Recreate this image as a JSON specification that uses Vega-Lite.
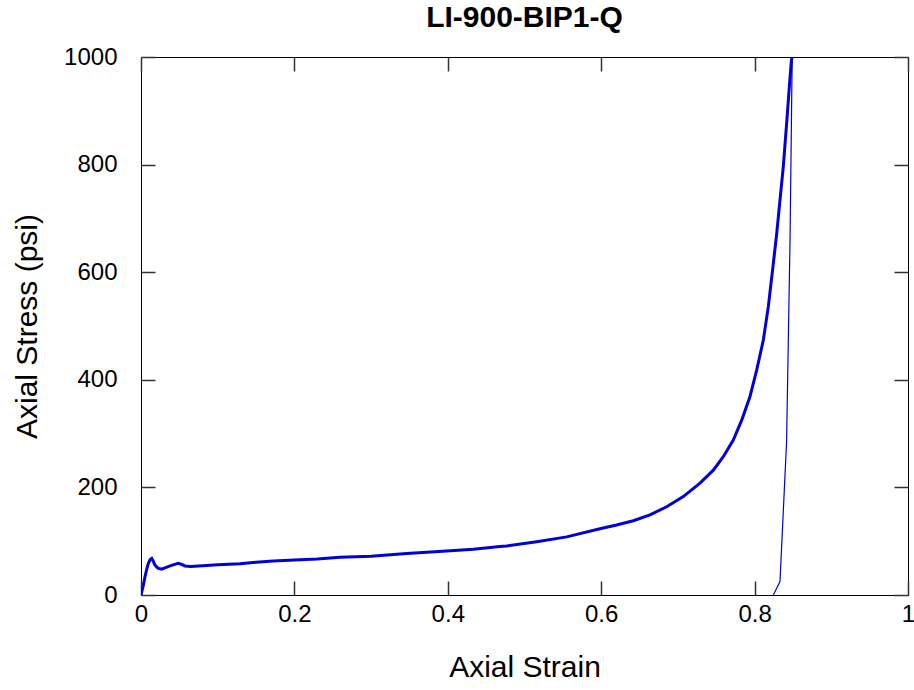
{
  "$schema": "https://vega.github.io/schema/vega-lite/v6.json",
  "autosize": "none",
  "width": 767,
  "height": 538,
  "padding": {"left": 141, "top": 57, "right": 6, "bottom": 95},
  "background": "white",
  "config": {
    "view": {"stroke": "#000", "strokeWidth": 1},
    "font": "Liberation Sans",
    "axis": {"grid": false, "ticks": true}
  },
  "title": {
    "text": "LI-900-BIP1-Q",
    "font": "Liberation Sans",
    "fontSize": 30,
    "fontWeight": "bold",
    "color": "#000",
    "offset": 12
  },
  "datasets": {
    "curve": [
      {"strain": 0, "stress": 0, "phase": "load"},
      {"strain": 0.003, "stress": 18, "phase": "load"},
      {"strain": 0.0052, "stress": 34, "phase": "load"},
      {"strain": 0.0075, "stress": 48, "phase": "load"},
      {"strain": 0.0096, "stress": 59, "phase": "load"},
      {"strain": 0.012, "stress": 66, "phase": "load"},
      {"strain": 0.014, "stress": 68, "phase": "load"},
      {"strain": 0.016, "stress": 63, "phase": "load"},
      {"strain": 0.018, "stress": 56, "phase": "load"},
      {"strain": 0.022, "stress": 50, "phase": "load"},
      {"strain": 0.027, "stress": 48, "phase": "load"},
      {"strain": 0.032, "stress": 51, "phase": "load"},
      {"strain": 0.038, "stress": 54, "phase": "load"},
      {"strain": 0.044, "stress": 57, "phase": "load"},
      {"strain": 0.0486, "stress": 59, "phase": "load"},
      {"strain": 0.053, "stress": 57, "phase": "load"},
      {"strain": 0.0574, "stress": 54, "phase": "load"},
      {"strain": 0.065, "stress": 53, "phase": "load"},
      {"strain": 0.075, "stress": 54, "phase": "load"},
      {"strain": 0.0856, "stress": 55, "phase": "load"},
      {"strain": 0.1, "stress": 56, "phase": "load"},
      {"strain": 0.115, "stress": 57, "phase": "load"},
      {"strain": 0.129, "stress": 58, "phase": "load"},
      {"strain": 0.15, "stress": 61, "phase": "load"},
      {"strain": 0.1725, "stress": 63, "phase": "load"},
      {"strain": 0.2, "stress": 65, "phase": "load"},
      {"strain": 0.23, "stress": 67, "phase": "load"},
      {"strain": 0.2595, "stress": 70, "phase": "load"},
      {"strain": 0.3, "stress": 72, "phase": "load"},
      {"strain": 0.3464, "stress": 77, "phase": "load"},
      {"strain": 0.3985, "stress": 82, "phase": "load"},
      {"strain": 0.4333, "stress": 85, "phase": "load"},
      {"strain": 0.468, "stress": 90, "phase": "load"},
      {"strain": 0.4768, "stress": 91, "phase": "load"},
      {"strain": 0.5159, "stress": 99, "phase": "load"},
      {"strain": 0.555, "stress": 108, "phase": "load"},
      {"strain": 0.5984, "stress": 123, "phase": "load"},
      {"strain": 0.62, "stress": 130, "phase": "load"},
      {"strain": 0.6419, "stress": 138, "phase": "load"},
      {"strain": 0.6636, "stress": 149, "phase": "load"},
      {"strain": 0.6854, "stress": 164, "phase": "load"},
      {"strain": 0.707, "stress": 183, "phase": "load"},
      {"strain": 0.7288, "stress": 208, "phase": "load"},
      {"strain": 0.7462, "stress": 232, "phase": "load"},
      {"strain": 0.7592, "stress": 257, "phase": "load"},
      {"strain": 0.7722, "stress": 288, "phase": "load"},
      {"strain": 0.7832, "stress": 325, "phase": "load"},
      {"strain": 0.794, "stress": 369, "phase": "load"},
      {"strain": 0.8027, "stress": 418, "phase": "load"},
      {"strain": 0.8114, "stress": 474, "phase": "load"},
      {"strain": 0.8179, "stress": 536, "phase": "load"},
      {"strain": 0.8244, "stress": 616, "phase": "load"},
      {"strain": 0.8287, "stress": 670, "phase": "load"},
      {"strain": 0.8331, "stress": 734, "phase": "load"},
      {"strain": 0.8374, "stress": 796, "phase": "load"},
      {"strain": 0.8418, "stress": 877, "phase": "load"},
      {"strain": 0.8453, "stress": 945, "phase": "load"},
      {"strain": 0.848, "stress": 994, "phase": "load"},
      {"strain": 0.849, "stress": 1000, "phase": "load"},
      {"strain": 0.849, "stress": 1000, "phase": "unload"},
      {"strain": 0.8462, "stress": 660, "phase": "unload"},
      {"strain": 0.8417, "stress": 285, "phase": "unload"},
      {"strain": 0.8331, "stress": 25, "phase": "unload"},
      {"strain": 0.8244, "stress": 0, "phase": "unload"}
    ]
  },
  "data": {"name": "curve"},
  "layer": [
    {
      "transform": [{"filter": "datum.phase === 'load'"}],
      "mark": {"type": "line", "color": "#0000d8", "strokeWidth": 3, "clip": true},
      "encoding": {
        "x": {
          "field": "strain", "type": "quantitative",
          "scale": {"domain": [0, 1], "nice": false, "zero": false},
          "axis": {
            "title": "Axial Strain", "titleFontSize": 30, "titleFontWeight": "normal",
            "titleColor": "#000", "titlePadding": 26,
            "values": [0, 0.2, 0.4, 0.6, 0.8, 1], "format": "~g",
            "labelFontSize": 24, "labelColor": "#000", "labelPadding": 7,
            "labelFlush": false, "labelOverlap": false,
            "domain": false, "offset": -14, "ticks": true,
            "tickSize": 14, "tickColor": "#333", "tickWidth": 1.5, "tickOpacity": 1
          }
        },
        "y": {
          "field": "stress", "type": "quantitative",
          "scale": {"domain": [0, 1000], "nice": false, "zero": false},
          "axis": {
            "title": "Axial Stress (psi)", "titleFontSize": 30, "titleFontWeight": "normal",
            "titleColor": "#000", "titlePadding": 21,
            "values": [0, 200, 400, 600, 800, 1000], "format": "d",
            "labelFontSize": 24, "labelColor": "#000", "labelPadding": 24,
            "labelFlush": false, "labelOverlap": false,
            "domain": false, "offset": -14, "ticks": true,
            "tickSize": 14, "tickColor": "#333", "tickWidth": 1.5, "tickOpacity": 1
          }
        }
      }
    },
    {
      "transform": [{"filter": "datum.phase === 'unload'"}],
      "mark": {"type": "line", "color": "#0000d8", "strokeWidth": 1.2, "clip": true},
      "encoding": {
        "x": {
          "field": "strain", "type": "quantitative",
          "axis": {
            "title": null, "labels": false,
            "values": [0, 0.2, 0.4, 0.6, 0.8, 1],
            "domain": false, "offset": -14, "ticks": true,
            "tickSize": 14, "tickColor": "#333", "tickWidth": 1.5, "tickOpacity": 1
          }
        },
        "y": {
          "field": "stress", "type": "quantitative",
          "axis": {
            "title": null, "labels": false,
            "values": [0, 200, 400, 600, 800, 1000],
            "domain": false, "offset": -14, "ticks": true,
            "tickSize": 14, "tickColor": "#333", "tickWidth": 1.5, "tickOpacity": 1
          }
        }
      }
    }
  ],
  "resolve": {"axis": {"x": "independent", "y": "independent"}}
}
